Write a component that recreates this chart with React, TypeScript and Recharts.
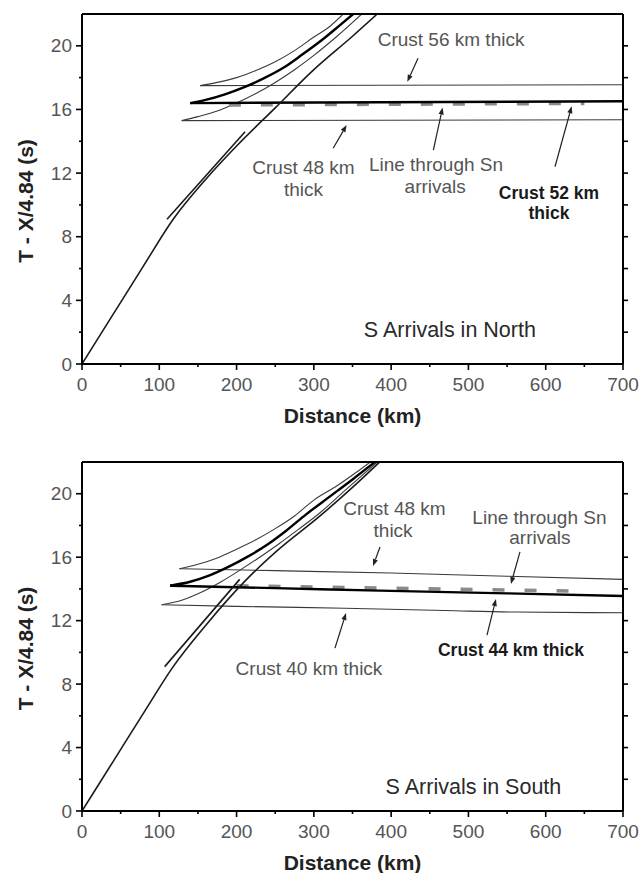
import { LineChart, Line, XAxis, YAxis, ReferenceLine, ReferenceDot } from "recharts";

type Pt = { d: number; t: number };

const FONT = '"Liberation Sans", Arial, sans-serif';

const X_TICKS = [0, 50, 100, 150, 200, 250, 300, 350, 400, 450, 500, 550, 600, 650, 700];
const Y_TICKS = [0, 2, 4, 6, 8, 10, 12, 14, 16, 18, 20, 22];

// ---- North panel (distance km, reduced time s) ----
const N_DIRECT: Pt[] = [
  { d: 0, t: 0 }, { d: 40, t: 3.1 }, { d: 80, t: 6.2 }, { d: 118, t: 9.1 },
  { d: 160, t: 11.6 }, { d: 200, t: 13.7 }, { d: 250, t: 16.1 }, { d: 300, t: 18.5 },
  { d: 350, t: 20.6 }, { d: 382, t: 22 },
];
const N_SHORT: Pt[] = [{ d: 110, t: 9.1 }, { d: 211, t: 14.6 }];
const N_REFL_56: Pt[] = [
  { d: 153, t: 17.5 }, { d: 175, t: 17.7 }, { d: 200, t: 18.0 }, { d: 225, t: 18.45 },
  { d: 250, t: 19.0 }, { d: 275, t: 19.7 }, { d: 300, t: 20.55 }, { d: 320, t: 21.2 }, { d: 338, t: 22 },
];
const N_HEAD_56: Pt[] = [{ d: 153, t: 17.5 }, { d: 700, t: 17.55 }];
const N_REFL_52: Pt[] = [
  { d: 140, t: 16.4 }, { d: 160, t: 16.6 }, { d: 185, t: 16.95 }, { d: 210, t: 17.4 },
  { d: 235, t: 17.95 }, { d: 260, t: 18.6 }, { d: 285, t: 19.45 }, { d: 310, t: 20.35 },
  { d: 335, t: 21.35 }, { d: 351, t: 22 },
];
const N_HEAD_52: Pt[] = [{ d: 140, t: 16.4 }, { d: 700, t: 16.52 }];
const N_REFL_48: Pt[] = [
  { d: 129, t: 15.3 }, { d: 150, t: 15.55 }, { d: 175, t: 15.9 }, { d: 200, t: 16.4 },
  { d: 225, t: 17.0 }, { d: 250, t: 17.7 }, { d: 275, t: 18.5 }, { d: 300, t: 19.4 },
  { d: 330, t: 20.6 }, { d: 362, t: 22 },
];
const N_HEAD_48: Pt[] = [{ d: 129, t: 15.3 }, { d: 700, t: 15.35 }];
const N_SN: Pt[] = [{ d: 190, t: 16.28 }, { d: 650, t: 16.38 }];

// ---- South panel ----
const S_DIRECT: Pt[] = [
  { d: 0, t: 0 }, { d: 40, t: 3.1 }, { d: 80, t: 6.2 }, { d: 118, t: 9.1 },
  { d: 160, t: 11.7 }, { d: 213, t: 14.6 }, { d: 250, t: 16.3 }, { d: 308, t: 18.6 },
  { d: 350, t: 20.4 }, { d: 385, t: 22 },
];
const S_SHORT: Pt[] = [{ d: 107, t: 9.1 }, { d: 204, t: 14.6 }];
const S_REFL_48: Pt[] = [
  { d: 126, t: 15.27 }, { d: 150, t: 15.55 }, { d: 175, t: 15.95 }, { d: 200, t: 16.5 },
  { d: 225, t: 17.1 }, { d: 250, t: 17.8 }, { d: 275, t: 18.6 }, { d: 300, t: 19.6 },
  { d: 330, t: 20.5 }, { d: 355, t: 21.35 }, { d: 373, t: 22 },
];
const S_HEAD_48: Pt[] = [
  { d: 126, t: 15.27 }, { d: 250, t: 15.15 }, { d: 400, t: 15.0 }, { d: 550, t: 14.8 }, { d: 700, t: 14.6 },
];
const S_REFL_44: Pt[] = [
  { d: 114, t: 14.2 }, { d: 140, t: 14.45 }, { d: 165, t: 14.85 }, { d: 190, t: 15.4 },
  { d: 215, t: 16.05 }, { d: 240, t: 16.8 }, { d: 265, t: 17.7 }, { d: 290, t: 18.7 },
  { d: 320, t: 19.8 }, { d: 350, t: 20.9 }, { d: 379, t: 22 },
];
const S_HEAD_44: Pt[] = [
  { d: 114, t: 14.2 }, { d: 250, t: 14.05 }, { d: 385, t: 13.89 }, { d: 550, t: 13.72 }, { d: 700, t: 13.55 },
];
const S_REFL_40: Pt[] = [
  { d: 103, t: 13.0 }, { d: 130, t: 13.3 }, { d: 155, t: 13.8 }, { d: 180, t: 14.45 },
  { d: 205, t: 15.2 }, { d: 230, t: 16.0 }, { d: 255, t: 16.85 }, { d: 280, t: 17.75 },
  { d: 308, t: 18.8 }, { d: 340, t: 20.2 }, { d: 382, t: 22 },
];
const S_HEAD_40: Pt[] = [
  { d: 103, t: 13.0 }, { d: 200, t: 12.9 }, { d: 340, t: 12.78 }, { d: 470, t: 12.64 },
  { d: 560, t: 12.54 }, { d: 700, t: 12.5 },
];
const S_SN: Pt[] = [{ d: 200, t: 14.2 }, { d: 402, t: 14.04 }, { d: 650, t: 13.86 }];

type Note = { text: string; d: number; t: number; bold?: boolean; size?: number };
type Arrow = { d1: number; t1: number; d2: number; t2: number };

const N_NOTES: Note[] = [
  { text: "Crust 56 km thick", d: 477.5, t: 20.37 },
  { text: "Crust 48 km", d: 286.6, t: 12.38 },
  { text: "thick", d: 286.6, t: 10.94 },
  { text: "Line through Sn", d: 458, t: 12.51 },
  { text: "arrivals", d: 457, t: 11.13 },
  { text: "Crust 52 km", d: 604.2, t: 10.75, bold: true },
  { text: "thick", d: 604.2, t: 9.49, bold: true },
  { text: "S Arrivals in North", d: 476, t: 2.14, size: 21.5 },
];
const N_ARROWS: Arrow[] = [
  { d1: 434.8, t1: 19.22, d2: 420.9, t2: 17.74 },
  { d1: 325, t1: 13.56, d2: 342.4, t2: 15.02 },
  { d1: 454.6, t1: 13.45, d2: 466.6, t2: 16.12 },
  { d1: 612, t1: 12.4, d2: 633.6, t2: 16.2 },
];

const S_NOTES: Note[] = [
  { text: "Crust 48 km", d: 404.3, t: 19.1 },
  { text: "thick", d: 402.5, t: 17.71 },
  { text: "Line through Sn", d: 591.9, t: 18.53 },
  { text: "arrivals", d: 592.5, t: 17.21 },
  { text: "Crust 44 km thick", d: 555, t: 10.15, bold: true },
  { text: "Crust 40 km thick", d: 293.7, t: 9.01 },
  { text: "S Arrivals in South", d: 506.5, t: 1.51, size: 21.5 },
];
const S_ARROWS: Arrow[] = [
  { d1: 385.6, t1: 16.64, d2: 376.5, t2: 15.44 },
  { d1: 566.7, t1: 16.33, d2: 555, t2: 14.31 },
  { d1: 524, t1: 11.09, d2: 535.6, t2: 13.36 },
  { d1: 327.3, t1: 10.27, d2: 341.6, t2: 12.48 },
];

function BottomTick({ x, y, payload }: any) {
  const major = payload.value % 100 === 0;
  return (
    <g>
      <line x1={x} y1={y} x2={x} y2={y + (major ? 6 : 3)} stroke="#000" strokeWidth={1.6} />
      {major && (
        <text x={x} y={y + 20} textAnchor="middle" dominantBaseline="central" fontSize={19} fill="#555" fontFamily={FONT}>
          {payload.value}
        </text>
      )}
    </g>
  );
}

function TopTick({ x, y }: any) {
  return <line x1={x} y1={y} x2={x} y2={y - 4} stroke="#000" strokeWidth={1.6} />;
}

function LeftTick({ x, y, payload }: any) {
  const major = payload.value % 4 === 0;
  if (payload.value === 22) return <g />;
  return (
    <g>
      <line x1={x} y1={y} x2={x - (major ? 6 : 3)} y2={y} stroke="#000" strokeWidth={1.6} />
      {major && (
        <text x={x - 10} y={y} textAnchor="end" dominantBaseline="central" fontSize={19} fill="#555" fontFamily={FONT}>
          {payload.value}
        </text>
      )}
    </g>
  );
}

function RightTick({ x, y, payload }: any) {
  if (payload.value === 0 || payload.value === 22) return <g />;
  return <line x1={x} y1={y} x2={x + 5} y2={y} stroke="#000" strokeWidth={1.6} />;
}

function ArrowShape({ x1, y1, x2, y2 }: any) {
  const ang = Math.atan2(y2 - y1, x2 - x1);
  const len = 7;
  const w = 2.6;
  const bx = x2 - len * Math.cos(ang);
  const by = y2 - len * Math.sin(ang);
  const px = -Math.sin(ang) * w;
  const py = Math.cos(ang) * w;
  return (
    <g>
      <line x1={x1} y1={y1} x2={bx} y2={by} stroke="#222" strokeWidth={1.2} />
      <polygon points={`${x2},${y2} ${bx + px},${by + py} ${bx - px},${by - py}`} fill="#222" />
    </g>
  );
}

type PanelProps = {
  height: number;
  marginTop: number;
  bottomHeight: number;
  thin: Pt[][];
  bold: Pt[][];
  sn: Pt[];
  direct: Pt[];
  short: Pt[];
  notes: Note[];
  arrows: Arrow[];
};

function Panel({ height, marginTop, bottomHeight, thin, bold, sn, direct, short, notes, arrows }: PanelProps) {
  return (
    <LineChart width={639} height={height} margin={{ top: marginTop, right: 6, bottom: 0, left: 0 }}>
      <XAxis
        dataKey="d"
        type="number"
        domain={[0, 700]}
        ticks={X_TICKS}
        interval={0}
        allowDataOverflow
        height={bottomHeight}
        tickSize={0}
        tickMargin={0}
        tickLine={false}
        tick={<BottomTick />}
        axisLine={{ stroke: "#000", strokeWidth: 2 }}
        label={{
          content: (p: any) => (
            <text
              x={p.viewBox.x + p.viewBox.width / 2}
              y={p.viewBox.y + 51}
              textAnchor="middle"
              dominantBaseline="central"
              fontSize={21}
              fontWeight="bold"
              fill="#222"
              fontFamily={FONT}
            >
              Distance (km)
            </text>
          ),
        }}
      />
      <XAxis
        xAxisId="top"
        orientation="top"
        type="number"
        domain={[0, 700]}
        ticks={X_TICKS}
        interval={0}
        allowDataOverflow
        height={8}
        tickSize={0}
        tickMargin={0}
        tickLine={false}
        tick={<TopTick />}
        axisLine={{ stroke: "#000", strokeWidth: 2 }}
      />
      <YAxis
        type="number"
        domain={[0, 22]}
        ticks={Y_TICKS}
        interval={0}
        allowDataOverflow
        width={82}
        tickSize={0}
        tickMargin={0}
        tickLine={false}
        tick={<LeftTick />}
        axisLine={{ stroke: "#000", strokeWidth: 2 }}
        label={{
          content: (p: any) => {
            const cy = p.viewBox.y + p.viewBox.height / 2 + 12;
            return (
              <text
                x={25}
                y={cy}
                transform={`rotate(-90 25 ${cy})`}
                textAnchor="middle"
                dominantBaseline="central"
                fontSize={21}
                fontWeight="bold"
                fill="#222"
                fontFamily={FONT}
              >
                T - X/4.84 (s)
              </text>
            );
          },
        }}
      />
      <YAxis
        yAxisId="right"
        orientation="right"
        type="number"
        domain={[0, 22]}
        ticks={Y_TICKS}
        interval={0}
        allowDataOverflow
        width={10}
        tickSize={0}
        tickMargin={0}
        tickLine={false}
        tick={<RightTick />}
        axisLine={{ stroke: "#000", strokeWidth: 2 }}
      />
      {thin.map((s, i) => (
        <Line key={`thin${i}`} data={s} dataKey="t" type="monotone" stroke="#3a3a3a" strokeWidth={1.1} dot={false} isAnimationActive={false} />
      ))}
      <Line data={sn} dataKey="t" type="linear" stroke="#8a8a8a" strokeWidth={3.5} strokeDasharray="12 20" dot={false} isAnimationActive={false} />
      {bold.map((s, i) => (
        <Line key={`bold${i}`} data={s} dataKey="t" type="monotone" stroke="#000" strokeWidth={2.4} dot={false} isAnimationActive={false} />
      ))}
      <Line data={direct} dataKey="t" type="monotone" stroke="#1a1a1a" strokeWidth={1.6} dot={false} isAnimationActive={false} />
      <Line data={short} dataKey="t" type="linear" stroke="#1a1a1a" strokeWidth={1.6} dot={false} isAnimationActive={false} />
      {arrows.map((a, i) => (
        <ReferenceLine
          key={`arr${i}`}
          segment={[{ x: a.d1, y: a.t1 }, { x: a.d2, y: a.t2 }]}
          shape={(p: any) => <ArrowShape {...p} />}
        />
      ))}
      {notes.map((n, i) => (
        <ReferenceDot
          key={`note${i}`}
          x={n.d}
          y={n.t}
          r={0}
          shape={(p: any) => (
            <text
              x={p.cx}
              y={p.cy}
              textAnchor="middle"
              dominantBaseline="central"
              fontSize={n.size ?? (n.bold ? 17.5 : 19)}
              fontWeight={n.bold ? "bold" : "normal"}
              fill={n.size ? "#2a2a2a" : n.bold ? "#1a1a1a" : "#555"}
              fontFamily={FONT}
            >
              {n.text}
            </text>
          )}
        />
      ))}
    </LineChart>
  );
}

export default function App() {
  return (
    <div style={{ position: "absolute", top: 0, left: 0, width: 639, height: 873, overflow: "hidden", background: "#fff" }}>
      <div style={{ position: "absolute", top: 0, left: 0 }}>
        <Panel
          height={440}
          marginTop={6}
          bottomHeight={76}
          thin={[N_REFL_56, N_HEAD_56, N_REFL_48, N_HEAD_48]}
          bold={[N_REFL_52, N_HEAD_52]}
          sn={N_SN}
          direct={N_DIRECT}
          short={N_SHORT}
          notes={N_NOTES}
          arrows={N_ARROWS}
        />
      </div>
      <div style={{ position: "absolute", top: 440, left: 0 }}>
        <Panel
          height={433}
          marginTop={14}
          bottomHeight={62}
          thin={[S_REFL_48, S_HEAD_48, S_REFL_40, S_HEAD_40]}
          bold={[S_REFL_44, S_HEAD_44]}
          sn={S_SN}
          direct={S_DIRECT}
          short={S_SHORT}
          notes={S_NOTES}
          arrows={S_ARROWS}
        />
      </div>
    </div>
  );
}
